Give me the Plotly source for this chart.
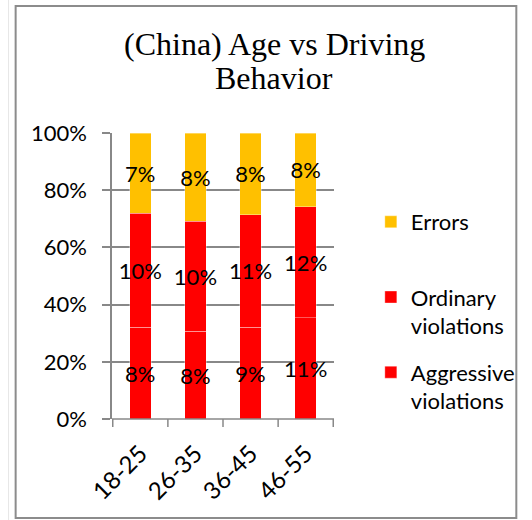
import plotly.graph_objects as go

categories = ["18-25", "26-35", "36-45", "46-55"]
aggressive = [8, 8, 9, 11]
ordinary = [10, 10, 11, 12]
errors = [7, 8, 8, 8]
y_ticks = [0, 20, 40, 60, 80, 100]
y_tick_labels = ["0%", "20%", "40%", "60%", "80%", "100%"]
title_lines = ["(China) Age vs Driving", "Behavior"]

W, H = 532, 520
ML, MR, MT, MB = 112, 185, 133, 101
PW, PH = W - ML - MR, H - MT - MB

LABEL_FONT = dict(family="Lato, Open Sans, sans-serif", size=22, color="#000000")

fig = go.Figure()
series = [
    ("Aggressive<br>violations", aggressive, "#FF0000", 3),
    ("Ordinary<br>violations", ordinary, "#FF0000", 2),
    ("Errors<br>\u00a0", errors, "#FFC000", 1),
]
for i, (name, vals, col, rank) in enumerate(series):
    fig.add_trace(go.Bar(
        x=categories, y=vals, name=name, legendgroup=f"g{i}", legendrank=rank,
        marker=dict(color=col, line=dict(color="rgba(255,255,255,0.35)", width=1)),
        text=[f"{v}%" for v in vals],
        textposition="inside", insidetextanchor="middle",
        constraintext="none", textangle=0,
        textfont=LABEL_FONT,
        hoverinfo="skip",
    ))

def px_x(px):
    return (px - ML) / PW

def px_y(py):
    return (H - MB - py) / PH

fig.update_layout(
    width=W, height=H,
    margin=dict(l=ML, r=MR, t=MT, b=MB, pad=0),
    barmode="stack", barnorm="percent", bargap=0.61,
    paper_bgcolor="white", plot_bgcolor="white",
    legend=dict(
        traceorder="grouped",
        x=px_x(386), xanchor="left", y=px_y(201), yanchor="top",
        font=LABEL_FONT, itemwidth=30, tracegroupgap=15, valign="top",
        bgcolor="rgba(0,0,0,0)",
    ),
    showlegend=True,
    xaxis=dict(
        tickangle=-45, tickfont=dict(LABEL_FONT, size=24),
        showline=False, showgrid=False,
        ticks="", fixedrange=True, ticklabelstandoff=15,
    ),
    yaxis=dict(
        range=[0, 100], tickvals=y_ticks, ticktext=y_tick_labels,
        tickfont=LABEL_FONT, showgrid=True, gridcolor="#888888", gridwidth=1.5,
        ticks="outside", ticklen=8, tickcolor="#888888", tickwidth=1.5,
        showline=True, linecolor="#888888", linewidth=1.5,
        zeroline=False, fixedrange=True, ticklabelstandoff=11,
    ),
)

# title as two centered lines
TITLE_FONT = dict(family="Liberation Serif, Times New Roman, serif", size=32, color="#000000")
for line, cy in zip(title_lines, [44, 78]):
    fig.add_annotation(text=line, xref="paper", yref="paper",
                       x=px_x(284), y=px_y(cy), xanchor="center", yanchor="middle",
                       showarrow=False, font=TITLE_FONT)

# x-axis category ticks (boundaries between categories) drawn along the baseline
n = len(categories)
for i in range(n + 1):
    fig.add_shape(type="line", xref="x", yref="paper",
                  x0=i - 0.5, x1=i - 0.5, y0=0, y1=-8 / PH,
                  line=dict(color="#888888", width=1.5))
fig.add_shape(type="line", xref="paper", yref="paper", x0=0, x1=1, y0=0, y1=0,
              line=dict(color="#888888", width=1.5))

# outer chart border
fig.add_shape(type="rect", xref="paper", yref="paper",
              x0=px_x(10), x1=px_x(540), y0=px_y(518), y1=px_y(6),
              line=dict(color="#8c8c8c", width=2), fillcolor="rgba(0,0,0,0)", layer="below")
fig.add_shape(type="line", xref="paper", yref="paper",
              x0=px_x(2.5), x1=px_x(2.5), y0=px_y(520), y1=px_y(0),
              line=dict(color="#e6e6e6", width=1), layer="below")

fig.write_html("out.html")
